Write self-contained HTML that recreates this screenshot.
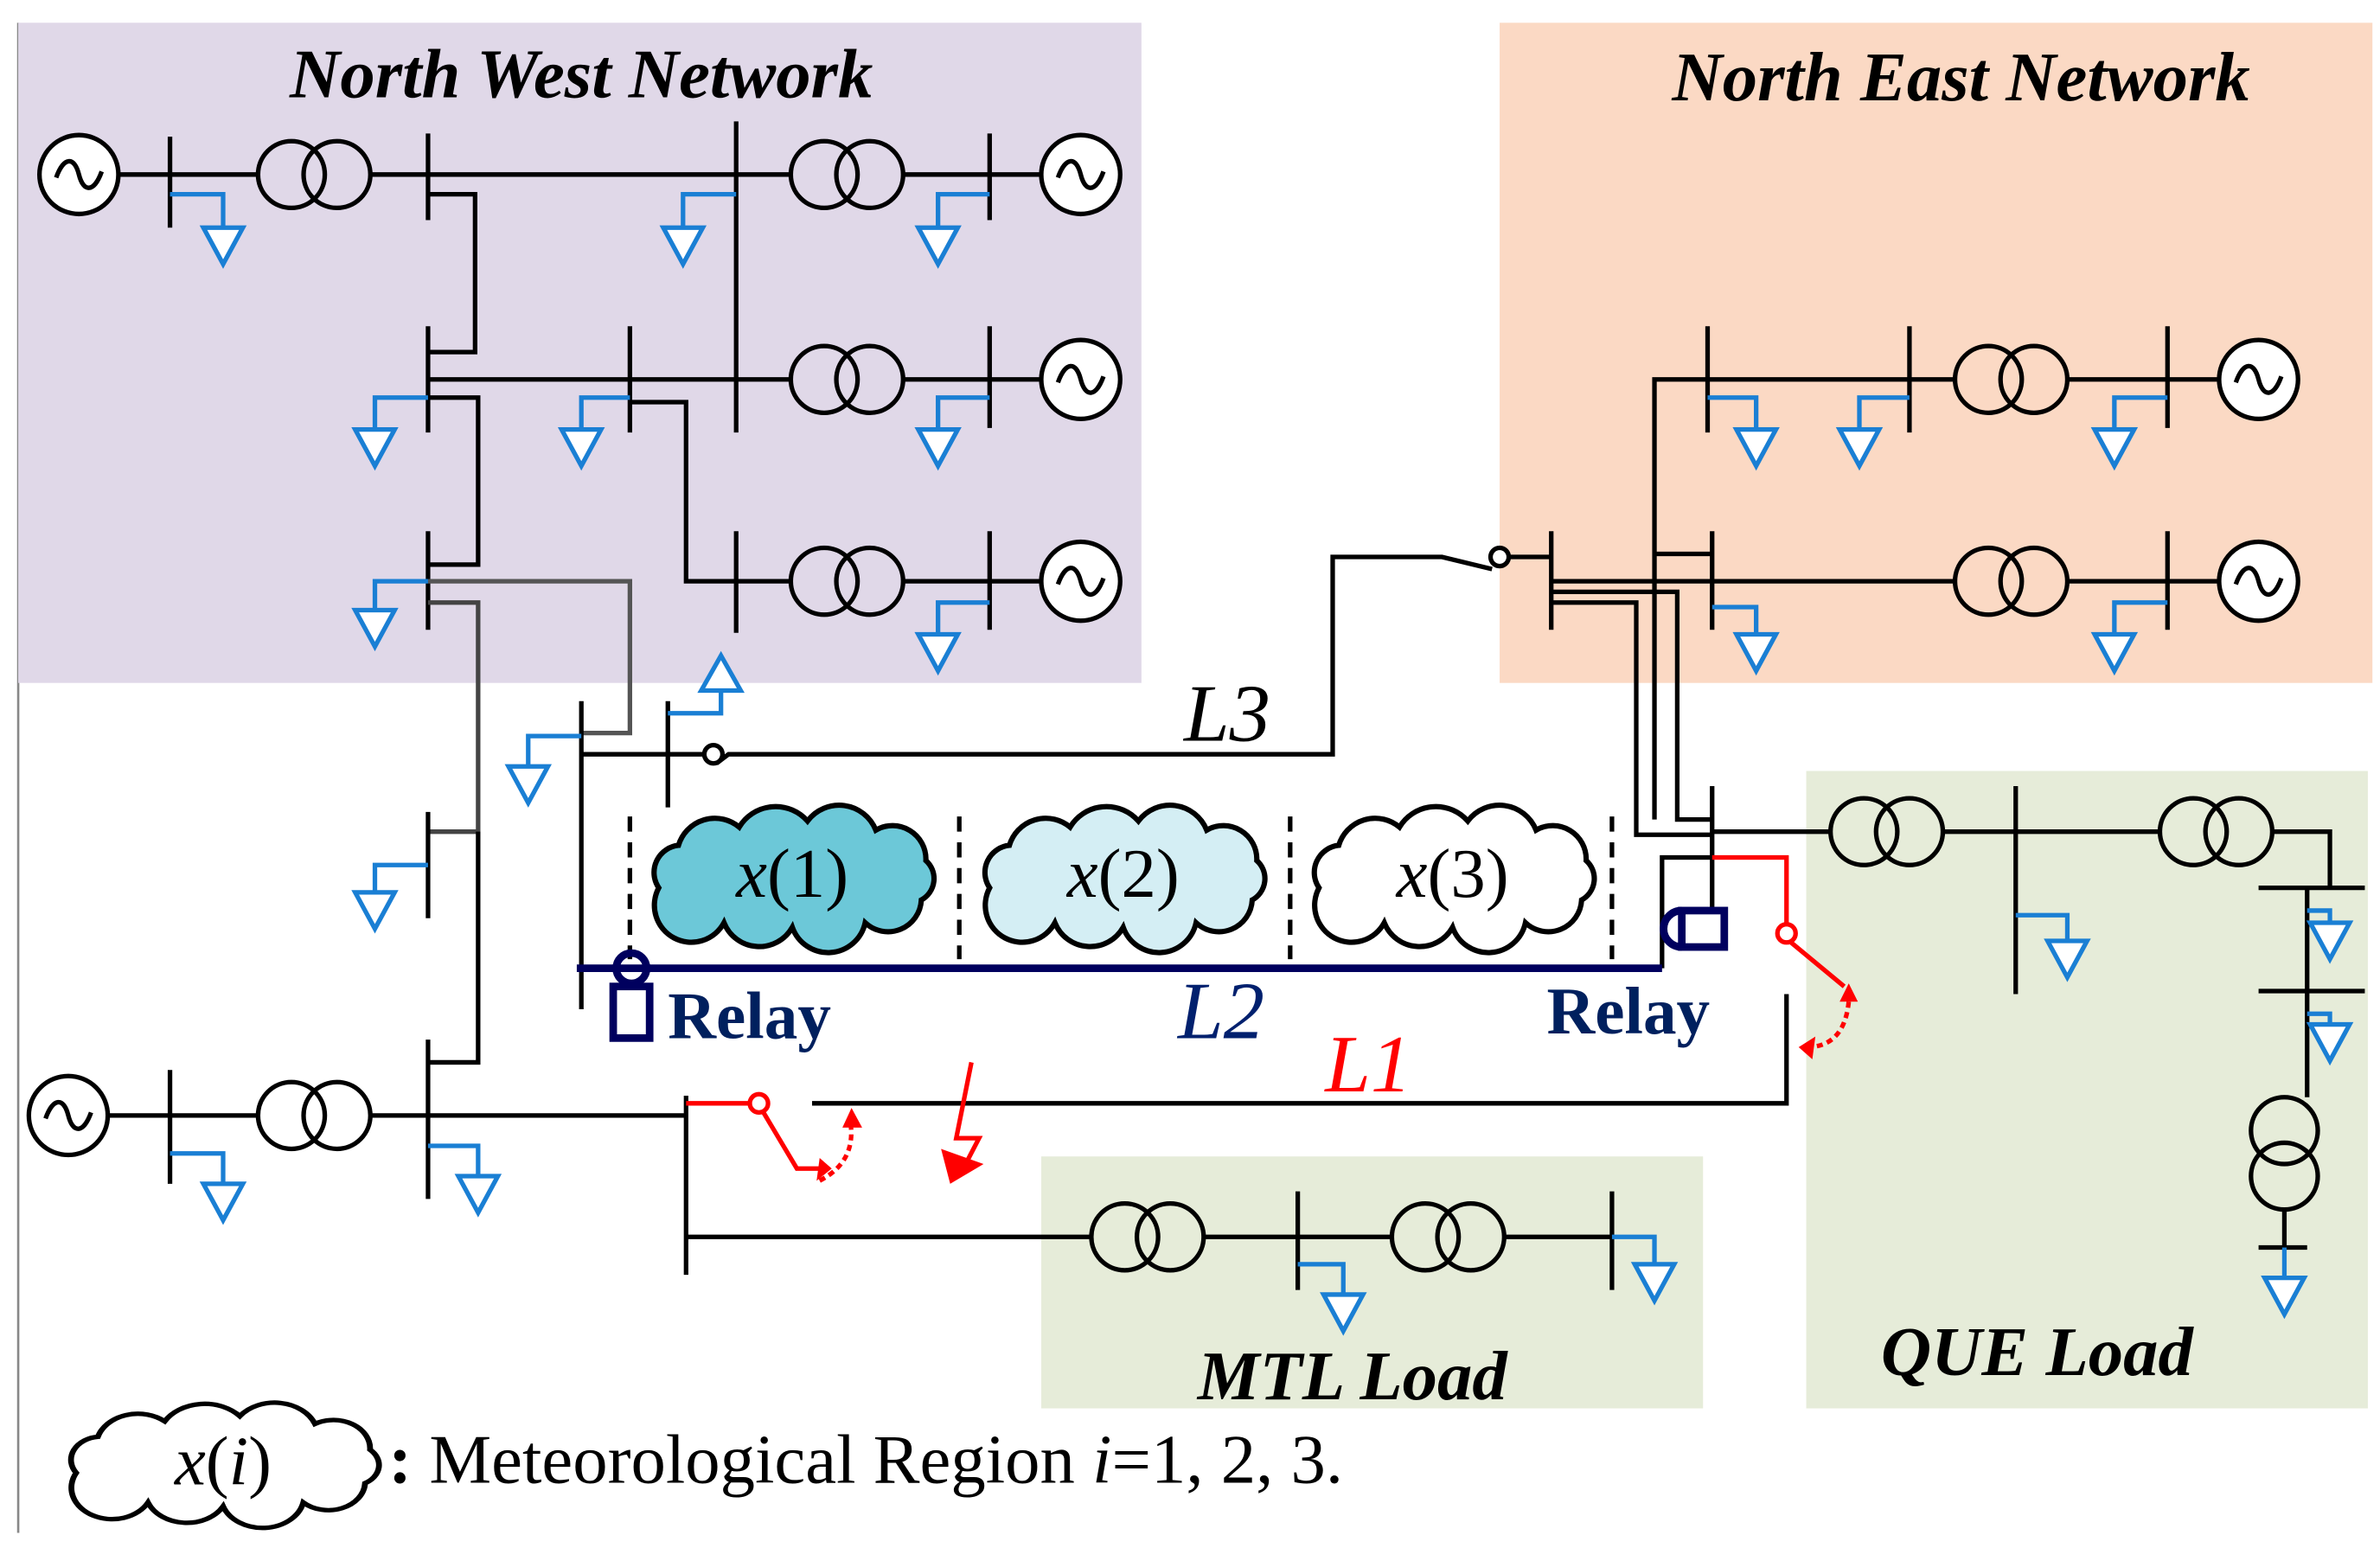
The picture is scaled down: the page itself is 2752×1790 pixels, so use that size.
<!DOCTYPE html>
<html><head><meta charset="utf-8"><style>html,body{margin:0;padding:0;background:#fff}svg{display:block}</style></head><body>
<svg width="2752" height="1790" viewBox="0 0 1568 1020" preserveAspectRatio="none" xmlns="http://www.w3.org/2000/svg" font-family="Liberation Serif, serif">
<defs>
<g id="gen"><circle r="26" fill="#fff" stroke="#000" stroke-width="3"/><path d="M-15,2 C-10,-12 -3,-12 0,0 C3,12 10,12 15,-2" fill="none" stroke="#000" stroke-width="3"/></g>
<g id="xf"><circle cx="-15" r="22" fill="none" stroke="#000" stroke-width="3"/><circle cx="15" r="22" fill="none" stroke="#000" stroke-width="3"/></g>
<g id="xfv"><circle cy="-15" r="22" fill="none" stroke="#000" stroke-width="3"/><circle cy="15" r="22" fill="none" stroke="#000" stroke-width="3"/></g>
<polygon id="tri" points="-13,0 13,0 0,24" fill="#fff" stroke="#1a7fd4" stroke-width="3"/>
<path id="cloud" d="M-88,10 A18,18 0 0 1 -75,-18 A25,25 0 0 1 -35,-30 A28,28 0 0 1 10,-34 A26,26 0 0 1 55,-28 A22,22 0 0 1 88,-8 A16,16 0 0 1 85,18 A22,22 0 0 1 48,33 A25,25 0 0 1 0,36 A25,25 0 0 1 -45,33 A22,22 0 0 1 -88,10 Z" stroke="#000" stroke-width="3.5"/>
</defs>
<line x1="12" y1="15" x2="12" y2="1010" stroke="#888" stroke-width="1.5"/>
<rect x="12" y="15" width="740" height="435" fill="#e0d8e8"/>
<rect x="988" y="15" width="575" height="435" fill="#fbd9c4"/>
<rect x="1190" y="508" width="370" height="420" fill="#e6ecd9"/>
<rect x="686" y="762" width="436" height="166" fill="#e6ecd9"/>
<g font-weight="bold" font-style="italic" font-size="46" text-anchor="middle">
<text x="383" y="64">North West Network</text>
<text x="1292" y="66">North East Network</text>
<text x="891" y="922">MTL Load</text>
<text x="1342" y="906">QUE Load</text>
</g>
<g stroke="#000" stroke-width="3" fill="none">
<line x1="78" y1="115" x2="170" y2="115"/><line x1="244" y1="115" x2="521" y2="115"/><line x1="595" y1="115" x2="686" y2="115"/>
<line x1="112" y1="90" x2="112" y2="150"/><line x1="282" y1="88" x2="282" y2="145"/><line x1="485" y1="80" x2="485" y2="285"/><line x1="652" y1="88" x2="652" y2="145"/>
<polyline points="282,128 313,128 313,232 282,232"/>
<line x1="282" y1="215" x2="282" y2="285"/><line x1="415" y1="215" x2="415" y2="285"/><line x1="652" y1="215" x2="652" y2="282"/>
<line x1="282" y1="250" x2="521" y2="250"/><line x1="595" y1="250" x2="686" y2="250"/>
<polyline points="282,262 315,262 315,372 282,372"/>
<polyline points="415,265 452,265 452,383 521,383"/>
<line x1="282" y1="350" x2="282" y2="415"/><line x1="485" y1="350" x2="485" y2="417"/><line x1="652" y1="350" x2="652" y2="415"/>
<line x1="595" y1="383" x2="686" y2="383"/>
<polyline points="282,383 415,383 415,483 383,483" stroke="#555"/>
<polyline points="282,397 315,397 315,548 282,548" stroke="#444"/>
<line x1="383" y1="462" x2="383" y2="665"/><line x1="440" y1="462" x2="440" y2="532"/>
<line x1="383" y1="497" x2="465" y2="497"/>
<polyline points="472,503 480,497 878,497 878,367 950,367 983,375"/>
<line x1="993" y1="367" x2="1022" y2="367"/>
<line x1="282" y1="535" x2="282" y2="605"/>
<polyline points="282,700 315,700 315,548"/>
<line x1="282" y1="685" x2="282" y2="790"/><line x1="112" y1="705" x2="112" y2="780"/>
<line x1="71" y1="735" x2="170" y2="735"/><line x1="244" y1="735" x2="452" y2="735"/>
<line x1="452" y1="722" x2="452" y2="840"/>
<polyline points="535,727 1177,727 1177,655"/>
<polyline points="452,815 720,815"/><line x1="792" y1="815" x2="918" y2="815"/><line x1="990" y1="815" x2="1062" y2="815"/>
<line x1="855" y1="785" x2="855" y2="850"/><line x1="1062" y1="785" x2="1062" y2="850"/>
<line x1="1022" y1="350" x2="1022" y2="415"/><line x1="1128" y1="350" x2="1128" y2="415"/>
<line x1="1125" y1="215" x2="1125" y2="285"/><line x1="1258" y1="215" x2="1258" y2="285"/><line x1="1428" y1="215" x2="1428" y2="282"/><line x1="1428" y1="350" x2="1428" y2="415"/>
<line x1="1022" y1="383" x2="1288" y2="383"/><line x1="1362" y1="383" x2="1462" y2="383"/>
<polyline points="1090,540 1090,250 1288,250"/><line x1="1362" y1="250" x2="1462" y2="250"/>
<polyline points="1128,365 1090,365"/>
<polyline points="1022,397 1078,397 1078,550 1128,550"/>
<polyline points="1022,390 1105,390 1105,540 1128,540"/>
<line x1="1128" y1="518" x2="1128" y2="600"/>
<line x1="1128" y1="548" x2="1206" y2="548"/><line x1="1280" y1="548" x2="1423" y2="548"/><polyline points="1497,548 1535,548 1535,585"/>
<line x1="1328" y1="518" x2="1328" y2="655"/>
<line x1="1488" y1="585" x2="1558" y2="585"/><line x1="1488" y1="653" x2="1558" y2="653"/>
<line x1="1520" y1="585" x2="1520" y2="723"/><line x1="1505" y1="797" x2="1505" y2="822"/><line x1="1488" y1="822" x2="1520" y2="822"/>
<polyline points="1128,565 1095,565 1095,638"/>
</g>
<g fill="none" stroke="#000" stroke-width="3">
<circle cx="470" cy="497" r="6" fill="#fff"/><circle cx="988" cy="367" r="6" fill="#fff"/>
</g>
<use href="#gen" x="52" y="115"/><use href="#gen" x="712" y="115"/><use href="#gen" x="712" y="250"/><use href="#gen" x="712" y="383"/><use href="#gen" x="45" y="735"/>
<use href="#gen" x="1488" y="250"/><use href="#gen" x="1488" y="383"/>
<use href="#xf" x="207" y="115"/><use href="#xf" x="558" y="115"/><use href="#xf" x="558" y="250"/><use href="#xf" x="558" y="383"/><use href="#xf" x="207" y="735"/>
<use href="#xf" x="756" y="815"/><use href="#xf" x="954" y="815"/><use href="#xf" x="1325" y="250"/><use href="#xf" x="1325" y="383"/>
<use href="#xf" x="1243" y="548"/><use href="#xf" x="1460" y="548"/><use href="#xfv" x="1505" y="760"/>
<g fill="none" stroke="#1a7fd4" stroke-width="3">
<polyline points="112,128 147,128 147,150"/><polyline points="485,128 450,128 450,150"/><polyline points="652,128 618,128 618,150"/>
<polyline points="282,262 247,262 247,283"/><polyline points="415,262 383,262 383,283"/><polyline points="652,262 618,262 618,283"/>
<polyline points="282,383 247,383 247,402"/><polyline points="652,397 618,397 618,418"/>
<polyline points="383,485 348,485 348,505"/><polyline points="440,470 475,470 475,455"/>
<polyline points="282,570 247,570 247,588"/><polyline points="112,760 147,760 147,780"/><polyline points="282,755 315,755 315,775"/>
<polyline points="855,833 885,833 885,853"/><polyline points="1062,815 1090,815 1090,833"/>
<polyline points="1125,262 1157,262 1157,283"/><polyline points="1258,262 1225,262 1225,283"/><polyline points="1428,262 1393,262 1393,283"/>
<polyline points="1128,400 1157,400 1157,418"/><polyline points="1428,397 1393,397 1393,418"/>
<polyline points="1328,603 1362,603 1362,620"/><polyline points="1520,600 1535,600 1535,608"/><polyline points="1520,668 1535,668 1535,675"/><line x1="1505" y1="822" x2="1505" y2="842"/>
<polygon points="462,455 488,455 475,432" fill="#fff"/>
</g>
<use href="#tri" x="147" y="150"/><use href="#tri" x="450" y="150"/><use href="#tri" x="618" y="150"/>
<use href="#tri" x="247" y="283"/><use href="#tri" x="383" y="283"/><use href="#tri" x="618" y="283"/>
<use href="#tri" x="247" y="402"/><use href="#tri" x="618" y="418"/><use href="#tri" x="348" y="505"/>
<use href="#tri" x="247" y="588"/><use href="#tri" x="147" y="780"/><use href="#tri" x="315" y="775"/>
<use href="#tri" x="885" y="853"/><use href="#tri" x="1090" y="833"/>
<use href="#tri" x="1157" y="283"/><use href="#tri" x="1225" y="283"/><use href="#tri" x="1393" y="283"/>
<use href="#tri" x="1157" y="418"/><use href="#tri" x="1393" y="418"/>
<use href="#tri" x="1362" y="620"/><use href="#tri" x="1535" y="608"/><use href="#tri" x="1535" y="675"/><use href="#tri" x="1505" y="842"/>
<g stroke="#000" stroke-width="3" stroke-dasharray="10,7">
<line x1="415" y1="538" x2="415" y2="632"/><line x1="632" y1="538" x2="632" y2="632"/><line x1="850" y1="538" x2="850" y2="632"/><line x1="1062" y1="538" x2="1062" y2="632"/>
</g>
<use href="#cloud" x="522" y="575" fill="#6cc8d8"/>
<use href="#cloud" x="740" y="575" fill="#d4eef4"/>
<use href="#cloud" x="957" y="575" fill="#fff"/>
<g transform="translate(147,962) scale(1.1,0.85)"><use href="#cloud" fill="#fff"/></g>
<g font-size="46" text-anchor="middle">
<text x="522" y="591"><tspan font-style="italic">x</tspan>(1)</text><text x="740" y="591"><tspan font-style="italic">x</tspan>(2)</text><text x="957" y="591"><tspan font-style="italic">x</tspan>(3)</text><text x="147" y="978"><tspan font-style="italic">x</tspan>(<tspan font-style="italic">i</tspan>)</text>
</g>
<text x="256" y="977" font-size="46"><tspan font-weight="bold">:</tspan> Meteorological Region <tspan font-style="italic">i</tspan>=1, 2, 3.</text>
<line x1="380" y1="638" x2="1095" y2="638" stroke="#00005e" stroke-width="5"/>
<g fill="none" stroke="#00005e" stroke-width="5">
<rect x="404" y="650" width="24" height="34"/><circle cx="416" cy="638" r="10"/>
<rect x="1108" y="600" width="28" height="24"/><path d="M1108,600 A12,12 0 0 0 1108,624"/>
</g>
<g font-weight="bold" font-size="44" fill="#00205e"><text x="440" y="684">Relay</text><text x="1019" y="681">Relay</text></g>
<text x="780" y="488" font-size="54" font-style="italic">L3</text>
<text x="776" y="684" font-size="54" font-style="italic" fill="#00206e">L2</text>
<text x="873" y="719" font-size="54" font-style="italic" fill="#f00">L1</text>
<g stroke="#f00" stroke-width="3" fill="none">
<line x1="452" y1="727" x2="494" y2="727"/><polyline points="503,733 525,770 540,770"/>
<polyline points="1128,565 1177,565 1177,608"/><line x1="1180" y1="621" x2="1215" y2="650"/>
<path d="M540,778 Q565,765 560,738" stroke-dasharray="4,3"/>
<path d="M1190,690 Q1215,690 1218,660" stroke-dasharray="4,3"/>
<polyline points="640,700 630,750 645,750 632,775"/>
</g>
<g fill="#fff" stroke="#f00" stroke-width="3"><circle cx="500" cy="727" r="6"/><circle cx="1177" cy="615" r="6"/></g>
<g fill="#f00">
<polygon points="555,743 568,743 561,730"/><polygon points="1212,660 1224,660 1218,648"/>
<polygon points="1185,690 1196,683 1194,698"/><polygon points="548,770 540,763 538,778"/>
<polygon points="620,757 648,767 626,780"/>
</g>
</svg>
</body></html>
